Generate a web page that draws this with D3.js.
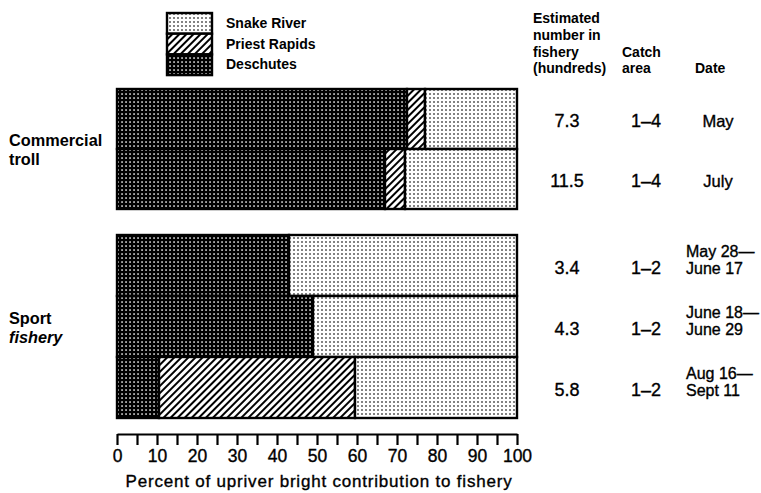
<!DOCTYPE html>
<html><head><meta charset="utf-8">
<script src="https://cdn.jsdelivr.net/npm/d3@7"></script>
<style>
html,body{margin:0;padding:0;background:#fff;}
svg{display:block;}
text{font-family:"Liberation Sans",Arial,Helvetica,sans-serif;fill:#000;}
.reg{stroke:#000;stroke-width:0.35px;}
</style></head>
<body>
<svg id="chart" width="761" height="493"></svg>
<script>
// ---- data ----
const groups = ["Commercial troll", "Sport fishery"];
const rowGroup = [0, 0, 1, 1, 1];
const rowIds = ["r1", "r2", "r3", "r4", "r5"];
const deschutes = [72.5, 67, 43, 49, 10.5];
const priestRapids = [4.5, 5, 0, 0, 49];
const snakeRiver = [23, 28, 57, 51, 40.5];
const estimatedNumber = ["7.3", "11.5", "3.4", "4.3", "5.8"];
const catchArea = ["1\u20134", "1\u20134", "1\u20132", "1\u20132", "1\u20132"];
const dates = [["May"], ["July"], ["May 28\u2014", "June 17"], ["June 18\u2014", "June 29"], ["Aug 16\u2014", "Sept 11"]];
const seriesNames = ["Snake River", "Priest Rapids", "Deschutes"];
const xTicks = d3.range(0, 101, 5);
const xTickLabels = [0, 10, 20, 30, 40, 50, 60, 70, 80, 90, 100];
const axisTitle = "Percent of upriver bright contribution to fishery";
const headers = [
  {lines: ["Estimated", "number in", "fishery", "(hundreds)"]},
  {lines: ["Catch", "area"]},
  {lines: ["Date"]}
];

// ---- setup ----
const svg = d3.select("#chart");
const defs = svg.append("defs");

// dark dotted (Deschutes)
const pd = defs.append("pattern").attr("id", "pDark").attr("patternUnits", "userSpaceOnUse")
  .attr("width", 4).attr("height", 4);
pd.append("rect").attr("width", 4).attr("height", 4).attr("fill", "#000");
pd.append("rect").attr("x", 1.3).attr("y", 1.3).attr("width", 1.5).attr("height", 1.5).attr("fill", "#fff");

// light dotted (Snake River)
const pl = defs.append("pattern").attr("id", "pLight").attr("patternUnits", "userSpaceOnUse")
  .attr("width", 4).attr("height", 4);
pl.append("rect").attr("width", 4).attr("height", 4).attr("fill", "#fff");
pl.append("rect").attr("x", 1.3).attr("y", 1.3).attr("width", 1.4).attr("height", 1.4).attr("fill", "#000");

// hatch (Priest Rapids)
const ph = defs.append("pattern").attr("id", "pHatch").attr("patternUnits", "userSpaceOnUse")
  .attr("width", 5).attr("height", 5).attr("patternTransform", "rotate(45)");
ph.append("rect").attr("width", 5).attr("height", 5).attr("fill", "#fff");
ph.append("rect").attr("x", 0).attr("y", 0).attr("width", 2).attr("height", 5).attr("fill", "#000");

const fills = {"Deschutes": "url(#pDark)", "Priest Rapids": "url(#pHatch)", "Snake River": "url(#pLight)"};

const x = d3.scaleLinear().domain([0, 100]).range([117, 517]);
const groupRange = [[89, 209], [235, 418]];
const yScales = groups.map((g, gi) => d3.scaleBand()
  .domain(rowIds.filter((r, i) => rowGroup[i] === gi))
  .range(groupRange[gi]).paddingInner(0).paddingOuter(0));
const yOf = i => yScales[rowGroup[i]](rowIds[i]);
const hOf = i => yScales[rowGroup[i]].bandwidth();

// ---- bars ----
const rows = rowIds.map((id, i) => {
  const segs = [];
  let acc = 0;
  [["Deschutes", deschutes[i]], ["Priest Rapids", priestRapids[i]], ["Snake River", snakeRiver[i]]].forEach(([n, v]) => {
    if (v > 0) segs.push({name: n, x0: acc, x1: acc + v});
    acc += v;
  });
  return {i, segs};
});

const barG = svg.append("g");
rows.forEach(r => {
  barG.selectAll(null).data(r.segs).join("rect")
    .attr("x", d => x(d.x0)).attr("width", d => x(d.x1) - x(d.x0))
    .attr("y", yOf(r.i)).attr("height", hOf(r.i))
    .attr("fill", d => fills[d.name])
    .attr("stroke", "#000").attr("stroke-width", 2.4);
});

// ---- group labels ----
groups.forEach((g, gi) => {
  const c = (groupRange[gi][0] + groupRange[gi][1]) / 2;
  const words = g.split(" ");
  const t = svg.append("text").attr("x", 9).attr("font-size", 16.3).attr("font-weight", "bold");
  t.append("tspan").attr("x", 9).attr("y", c - 3).text(words[0]);
  t.append("tspan").attr("x", 9).attr("y", c + 16).attr("font-style", gi === 1 ? "italic" : "normal").text(words[1]);
});

// ---- legend ----
const lg = svg.append("g");
seriesNames.forEach((n, k) => {
  const y0 = 13 + k * 20.7;
  lg.append("rect").attr("x", 167).attr("y", y0).attr("width", 45).attr("height", 20.7)
    .attr("fill", fills[n]).attr("stroke", "#000").attr("stroke-width", 2.4);
  lg.append("text").attr("x", 226).attr("y", y0 + 15).attr("font-size", 14).attr("font-weight", "bold").text(n);
});

// ---- axis ----
const axis = d3.axisBottom(x).tickValues(xTicks).tickSize(11).tickSizeOuter(0).tickPadding(5)
  .tickFormat(d => xTickLabels.includes(d) ? d : "");
const ag = svg.append("g").attr("transform", "translate(0,434)").call(axis);
ag.select(".domain").attr("stroke", "#000").attr("stroke-width", 2.2);
ag.selectAll(".tick line").attr("stroke", "#000").attr("stroke-width", 2.2);
ag.selectAll(".tick text").attr("font-size", 17.5).attr("font-family", "Liberation Sans, Arial, sans-serif")
  .attr("fill", "#000").attr("class", "reg");

svg.append("text").attr("class", "reg").attr("x", x(50) + 2).attr("y", 487).attr("text-anchor", "middle")
  .attr("font-size", 17).attr("letter-spacing", 0.8).text(axisTitle);

// ---- right-side table ----
const colX = [533, 622, 695];
const lineY = [23, 40, 57, 73];
headers.forEach((h, hi) => {
  const off = lineY.length - h.lines.length;
  h.lines.forEach((ln, li) => {
    svg.append("text").attr("x", colX[hi]).attr("y", lineY[off + li])
      .attr("font-size", 14).attr("font-weight", "bold").text(ln);
  });
});

rowIds.forEach((id, i) => {
  const c = yOf(i) + hOf(i) / 2;
  svg.append("text").attr("class", "reg").attr("x", 567).attr("y", c + 8).attr("text-anchor", "middle")
    .attr("font-size", 18).text(estimatedNumber[i]);
  svg.append("text").attr("class", "reg").attr("x", 646).attr("y", c + 8).attr("text-anchor", "middle")
    .attr("font-size", 18).text(catchArea[i]);
  const d = dates[i];
  if (d.length === 1) {
    svg.append("text").attr("class", "reg").attr("x", 718).attr("y", c + 8).attr("text-anchor", "middle")
      .attr("font-size", 16.5).text(d[0]);
  } else {
    d.forEach((ln, li) => {
      svg.append("text").attr("class", "reg").attr("x", 686).attr("y", c - 9 + li * 17)
        .attr("font-size", 16).text(ln);
    });
  }
});
</script>
</body></html>
